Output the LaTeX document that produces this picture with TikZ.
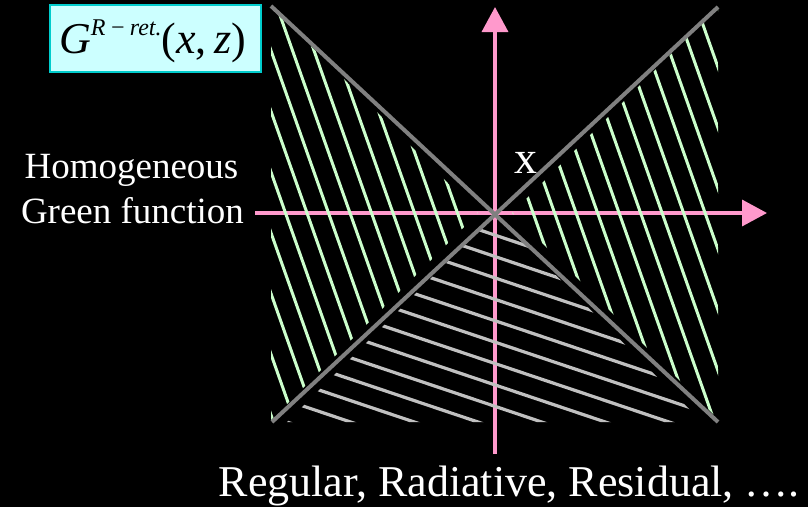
\documentclass[tikz,border=0pt]{standalone}
\usepackage{fontspec}
\setmainfont{Liberation Serif}
\usetikzlibrary{arrows.meta}
\definecolor{axispink}{HTML}{FF99CC}
\definecolor{conegrey}{HTML}{808080}
\definecolor{hatchgreen}{HTML}{CCFFCC}
\definecolor{hatchsilver}{HTML}{C0C0C0}
\definecolor{boxfill}{HTML}{CCFFFF}
\definecolor{boxline}{HTML}{00CCCC}
\begin{document}
\begin{tikzpicture}[x=1pt,y=-1pt,
  pinkaxis/.style={draw=axispink,line width=3.5pt,-{Triangle[length=25pt,width=26pt]}},
  greyline/.style={draw=conegrey,line width=4pt},
  greenhatch/.style={draw=hatchgreen,line width=3pt},
  silverhatch/.style={draw=hatchsilver,line width=3.2pt},
  labelbox/.style={draw=boxline,fill=boxfill,line width=1.8pt,minimum width=211pt,minimum height=67pt,inner sep=0pt},
  plaintext/.style={text=white,inner sep=0pt}]
\fill[black] (0,0) rectangle (808,507);
\useasboundingbox (0,0) rectangle (808,507);

% axes
\coordinate (vbot) at (495,454);
\coordinate (vtop) at (495,7);
\coordinate (hleft) at (255,213);
\coordinate (hright) at (767,213);
\draw[pinkaxis] (vbot) -- (vtop);
\draw[pinkaxis] (hleft) -- (hright);

% left green hatch
\begin{scope}
\clip (478,213) -- (271,6) -- (271,420) -- cycle;
\foreach \k in {-8,...,16}
  \draw[greenhatch] ({285.5+21.5*(\k)-106.2},-87) -- ({285.5+21.5*(\k)+106.2},513);
\end{scope}
% right green hatch
\begin{scope}
\clip (512,213) -- (718,7) -- (718,419) -- cycle;
\foreach \k in {-17,...,2}
  \draw[greenhatch] ({769.6+21.5*(\k)-106.2},-87) -- ({769.6+21.5*(\k)+106.2},513);
\end{scope}
% bottom silver hatch
\begin{scope}
\clip (495,214) -- (287,422) -- (702,422) -- cycle;
\foreach \k in {-16,...,1}
  \draw[silverhatch] (250,{388.2+21.4*(\k)}) -- (750,{556.2+21.4*(\k)});
\end{scope}

% light cone lines
\coordinate (ctl) at (271,6);
\coordinate (cbr) at (718,422);
\coordinate (cbl) at (272,422);
\coordinate (ctr) at (718,7);
\draw[greyline] (ctl) -- (cbr);
\draw[greyline] (cbl) -- (ctr);

% label box
\node[labelbox] (gbox) at (155.5,38.5) {};
\node[inner sep=0pt,anchor=base west,text=black] (gtext) at (59,53)
  {\fontsize{44}{44}\selectfont\itshape G\raisebox{18pt}{\fontsize{24}{24}\selectfont R\,−\,ret.}\upshape(\itshape x\upshape,\,\itshape z\upshape)};

% texts
\node[plaintext,anchor=base] (homo) at (131.5,178) {\fontsize{37}{37}\selectfont Homogeneous};
\node[plaintext,anchor=base] (green) at (132.5,223) {\fontsize{37}{37}\selectfont Green function};
\node[plaintext,anchor=base] (xpt) at (525.5,173) {\fontsize{46}{46}\selectfont x};
\node[plaintext,anchor=base east] (bottom) at (800,496) {\fontsize{44}{44}\selectfont Regular, Radiative, Residual, ….};
\end{tikzpicture}
\end{document}
